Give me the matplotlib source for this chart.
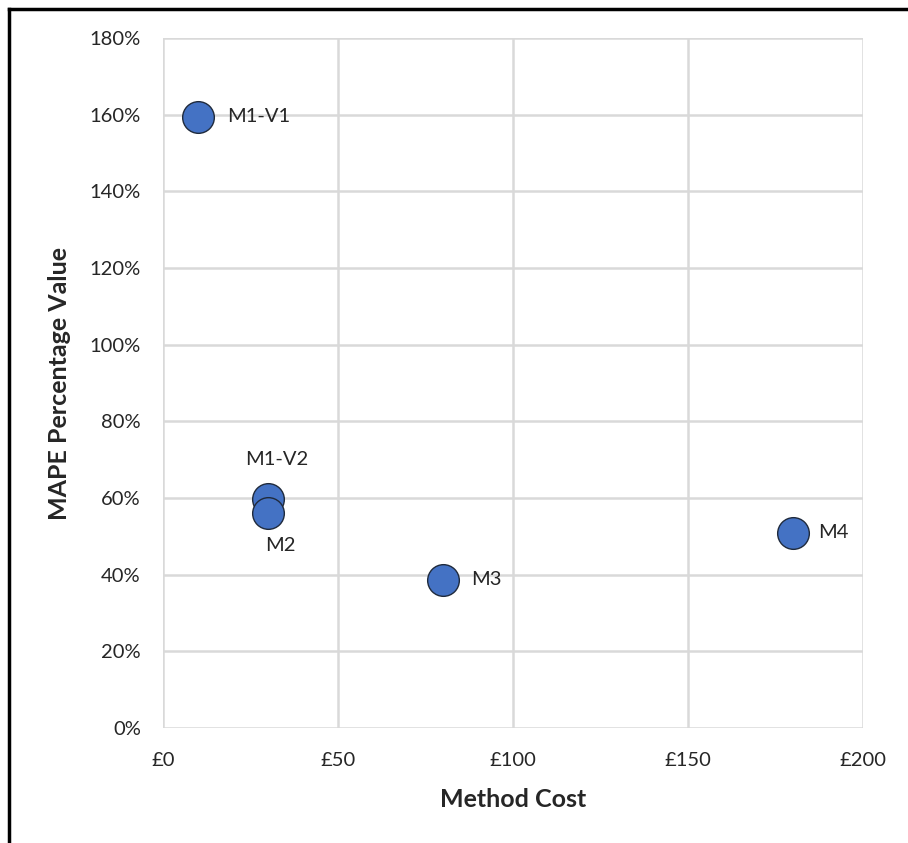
import matplotlib.pyplot as plt
from matplotlib.lines import Line2D
from matplotlib.ticker import FuncFormatter, MultipleLocator

methods = ['M1-V1', 'M1-V2', 'M2', 'M3', 'M4']
cost = [10, 30, 30, 80, 180]
mape = [1.595, 0.598, 0.562, 0.387, 0.51]
# label offsets in points, and alignment
offsets = [(21, 0), (6, 28), (9, -24), (20, 0), (18, 0)]
aligns = ['left', 'center', 'center', 'left', 'left']

plt.rcParams['font.family'] = ['Lato', 'DejaVu Sans']

fig = plt.figure(figsize=(9.08, 8.43), dpi=100)
ax = fig.add_axes([163 / 908, 1 - 728 / 843, 700 / 908, 690 / 843])

ax.scatter(cost, mape, s=520, color='#4472C4', edgecolor='#1f2a3c',
           linewidth=1.0, zorder=3, clip_on=False)

for name, x, y, off, ha in zip(methods, cost, mape, offsets, aligns):
    ax.annotate(name, (x, y), xytext=off, textcoords='offset points',
                ha=ha, va='center', fontsize=14.5, color='#262626', zorder=4)

ax.set_xlim(0, 200)
ax.set_ylim(0, 1.8)
ax.xaxis.set_major_locator(MultipleLocator(50))
ax.yaxis.set_major_locator(MultipleLocator(0.2))
ax.xaxis.set_major_formatter(FuncFormatter(lambda v, p: '£%d' % v))
ax.yaxis.set_major_formatter(FuncFormatter(lambda v, p: '%d%%' % round(v * 100)))
ax.grid(True, color='#d9d9d9', linewidth=1.8, zorder=0)
ax.set_axisbelow(True)
for s in ax.spines.values():
    s.set_visible(False)
ax.tick_params(length=0, labelsize=14.5, labelcolor='#262626')
ax.tick_params(axis='x', pad=17)
ax.tick_params(axis='y', pad=16)

ax.set_xlabel('Method Cost', fontsize=18, fontweight='bold', color='#262626', labelpad=14)
ax.set_ylabel('MAPE Percentage Value', fontsize=18, fontweight='bold', color='#262626', labelpad=13)

# frame of the cropped chart area (only top and left edges visible)
fig.add_artist(Line2D([9 / 908, 1], [1 - 9 / 843, 1 - 9 / 843], color='black', linewidth=2.5))
fig.add_artist(Line2D([9 / 908, 9 / 908], [0, 1 - 9 / 843], color='black', linewidth=2.5))

fig.savefig('out.png', dpi=100)
